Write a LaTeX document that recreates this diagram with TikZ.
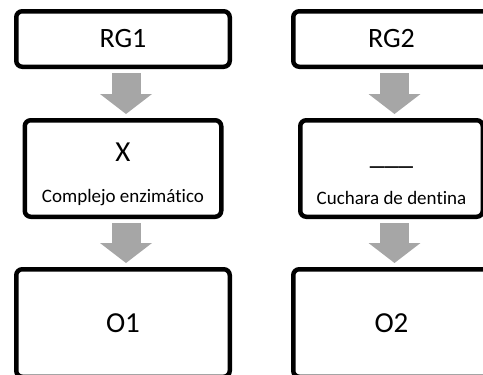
\documentclass[tikz,border=0pt]{standalone}
\usepackage{fontspec}
\setmainfont{Carlito}[Ligatures=NoCommon]
\usetikzlibrary{positioning, arrows.meta}
\definecolor{flowgray}{RGB}{166,166,166}
\tikzstyle{group} = [rectangle, rounded corners=3pt, line width=2.25pt, draw=black, fill=white, minimum height=27.75pt, font=\fontsize{14}{16}\selectfont]
\tikzstyle{method} = [rectangle, rounded corners=3pt, line width=2.25pt, draw=black, fill=white, minimum height=48.25pt]
\tikzstyle{outcome} = [rectangle, rounded corners=3pt, line width=2.25pt, draw=black, fill=white, minimum height=53.75pt, font=\fontsize{14.5}{16}\selectfont]
\tikzstyle{bigtext} = [inner sep=0pt, font=\fontsize{14.5}{16}\selectfont]
\tikzstyle{smalltext} = [inner sep=0pt, font=\fontsize{9.5}{11}\selectfont]
\tikzstyle{flow} = [line width=14.5pt, draw=flowgray, -{Triangle[width=26pt, length=10pt, line width=0pt]}]

\begin{document}
\begin{tikzpicture}[x=0.5pt, y=-0.5pt]
      \useasboundingbox (0,0) rectangle (483,375);
      \clip (0,0) rectangle (483,375);

      \node (rg1) [group, minimum width=106.75pt] at (123,39) {RG1};
      \node (rg2) [group, minimum width=98.25pt, right=29.5pt of rg1] {RG2};

      \node (x1) [method, minimum width=98.25pt, below=24.5pt of rg1] {};
      \node (x1name) [bigtext] at ([yshift=8.35pt]x1.center) {X};
      \node (x1tool) [smalltext] at ([yshift=-14.75pt]x1.center) {Complejo enzimático};

      \node (x2) [method, minimum width=91.25pt, below=24.5pt of rg2] {};
      \node (x2name) [bigtext] at ([yshift=1pt]x2.center) {\_\_\_};
      \node (x2tool) [smalltext] at ([yshift=-14.75pt]x2.center) {Cuchara de dentina};

      \node (o1) [outcome, minimum width=106.75pt, below=24pt of x1] {O1};
      \node (o2) [outcome, minimum width=98.25pt, below=24pt of x2] {O2};

      \draw [flow] ([xshift=1.5pt, yshift=-2pt]rg1.south) -- ([xshift=1.5pt, yshift=2pt]x1.north);
      \draw [flow] ([xshift=1.5pt, yshift=-2pt]rg2.south) -- ([xshift=1.5pt, yshift=2pt]x2.north);
      \draw [flow] ([xshift=1.5pt, yshift=-2pt]x1.south) -- ([xshift=1.5pt, yshift=2pt]o1.north);
      \draw [flow] ([xshift=1.5pt, yshift=-2pt]x2.south) -- ([xshift=1.5pt, yshift=2pt]o2.north);
\end{tikzpicture}
\end{document}
